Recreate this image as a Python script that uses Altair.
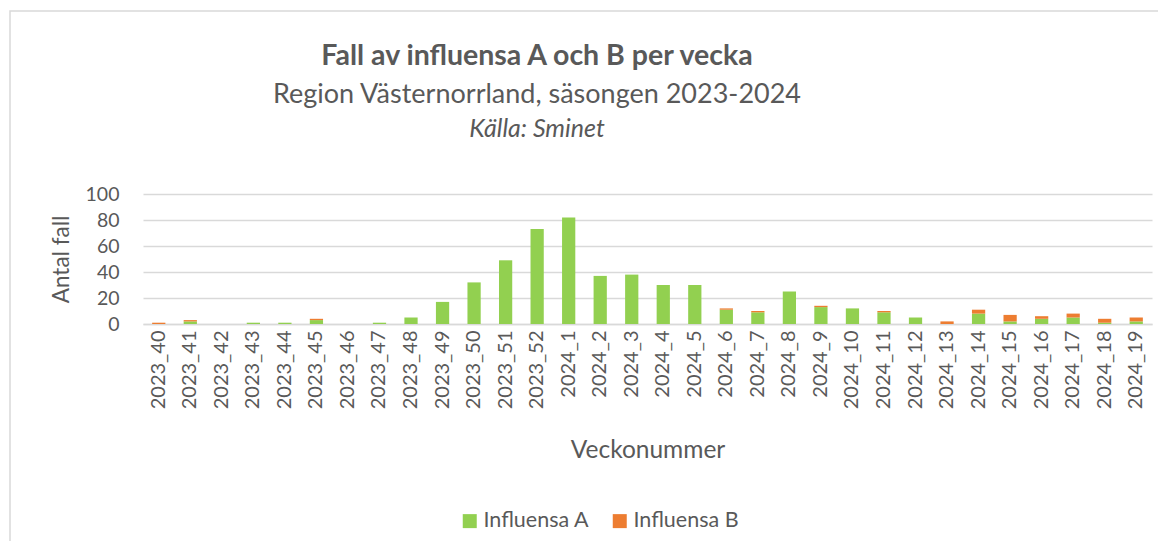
import altair as alt
import pandas as pd

weeks = ["2023_40", "2023_41", "2023_42", "2023_43", "2023_44", "2023_45", "2023_46",
         "2023_47", "2023_48", "2023_49", "2023_50", "2023_51", "2023_52", "2024_1",
         "2024_2", "2024_3", "2024_4", "2024_5", "2024_6", "2024_7", "2024_8", "2024_9",
         "2024_10", "2024_11", "2024_12", "2024_13", "2024_14", "2024_15", "2024_16",
         "2024_17", "2024_18", "2024_19"]
infl_a = [0, 2, 0, 1, 1, 3, 0, 1, 5, 17, 32, 49, 73, 82, 37, 38, 30, 30, 11, 9, 25, 13,
          12, 9, 5, 0, 8, 2, 4, 5, 1, 2]
infl_b = [1, 1, 0, 0, 0, 1, 0, 0, 0, 0, 0, 0, 0, 0, 0, 0, 0, 0, 1, 1, 0, 1,
          0, 1, 0, 2, 3, 5, 2, 3, 3, 3]
series = ["Influensa A", "Influensa B"]
colors = ["#92D050", "#ED7D31"]

title_main = "Fall av influensa A och B per vecka"
title_sub = "Region Västernorrland, säsongen 2023-2024"
title_src = "Källa: Sminet"

rows = []
for w, a, b in zip(weeks, infl_a, infl_b):
    rows.append({"vecka": w, "serie": series[0], "antal": a, "ordning": 0})
    rows.append({"vecka": w, "serie": series[1], "antal": b, "ordning": 1})
df = pd.DataFrame(rows)

FONT = "Lato"
TXT = "#595959"
W, H = 1009, 130

bars = alt.Chart(df).mark_bar().encode(
    x=alt.X("vecka:N", sort=weeks, scale=alt.Scale(paddingInner=0.58, paddingOuter=0.29),
            axis=alt.Axis(title="Veckonummer", labelAngle=270, labelFontSize=20,
                          labelColor=TXT, labelFont=FONT, labelPadding=6, ticks=False,
                          domainColor="#d9d9d9", domainWidth=1.5,
                          titleFont=FONT, titleFontSize=24.5, titleFontWeight="normal",
                          titleColor=TXT, titleY=126, titleBaseline="middle")),
    y=alt.Y("antal:Q", stack="zero", scale=alt.Scale(domain=[0, 100], nice=False),
            axis=alt.Axis(title="Antal fall", values=[0, 20, 40, 60, 80, 100],
                          labelFontSize=19.5, labelColor=TXT, labelFont=FONT,
                          labelPadding=24, ticks=False, domain=False,
                          gridColor="#d9d9d9", gridWidth=1.5,
                          titleFont=FONT, titleFontSize=22.5, titleFontWeight="normal",
                          titleColor=TXT, titleX=-82, titleY=65, titleAngle=270,
                          titleAlign="center", titleBaseline="middle")),
    color=alt.Color("serie:N", scale=alt.Scale(domain=series, range=colors),
                    legend=alt.Legend(title=None, orient="none", direction="horizontal",
                                      legendX=316, legendY=316, symbolType="square",
                                      symbolSize=196, symbolStrokeWidth=0,
                                      labelFont=FONT, labelFontSize=21.5, labelColor=TXT,
                                      labelOffset=3, columnPadding=19)),
    order=alt.Order("ordning:Q"),
)

def text_layer(txt, y, size, weight="normal", style="normal"):
    return alt.Chart(pd.DataFrame({"t": [txt]})).mark_text(
        font=FONT, fontSize=size, fontWeight=weight, fontStyle=style, color=TXT,
        align="center", baseline="alphabetic"
    ).encode(x=alt.value(394), y=alt.value(y), text="t:N")

frame = alt.Chart(pd.DataFrame({"f": [1]})).mark_rect(
    fill=None, stroke="#d9d9d9", strokeWidth=1.5
).encode(x=alt.value(-133), x2=alt.value(W + 200), y=alt.value(-183), y2=alt.value(H + 400))

chart = alt.layer(
    frame,
    bars,
    text_layer(title_main, -129, 28.5, weight="bold"),
    text_layer(title_sub, -91, 27),
    text_layer(title_src, -57, 25, style="italic"),
).properties(
    width=W, height=H,
    autosize=alt.AutoSizeParams(type="none"),
    padding={"left": 135, "top": 186, "right": 6, "bottom": 217},
).configure_view(stroke=None)

chart.save("out.html", embed_options={"renderer": "svg", "actions": False})
